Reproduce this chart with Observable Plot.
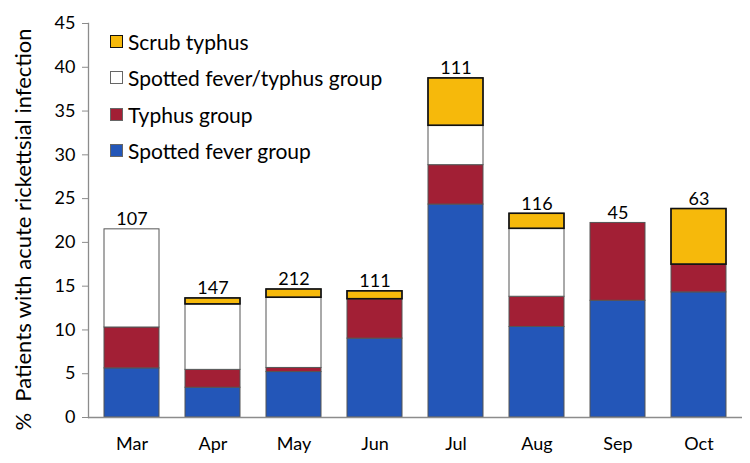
<!DOCTYPE html>
<html>
<head>
<meta charset="utf-8">
<script src="https://cdn.jsdelivr.net/npm/d3@7"></script>
<script src="https://cdn.jsdelivr.net/npm/@observablehq/plot@0.6"></script>
<style>
  html, body { margin: 0; padding: 0; background: #fff; }
  #wrap { position: relative; width: 750px; height: 463px; font-family: Lato, "Open Sans", sans-serif; }
  #legend { position: absolute; left: 110px; top: 23.5px; font-size: 21px; color: #000; }
  #legend .row { display: flex; align-items: center; height: 36.3px; }
  #legend .sw { width: 13px; height: 13px; box-sizing: border-box; margin-right: 5px; }
</style>
</head>
<body>
<div id="wrap"><div id="legend"></div></div>
<script>
const months = ["Mar", "Apr", "May", "Jun", "Jul", "Aug", "Sep", "Oct"];
const totals = [107, 147, 212, 111, 111, 116, 45, 63];
const seriesNames = ["Spotted fever group", "Typhus group", "Spotted fever/typhus group", "Scrub typhus"];
const spottedFever = [5.61, 3.40, 5.19, 9.01, 24.32, 10.34, 13.33, 14.29];
const typhus = [4.67, 2.04, 0.47, 4.50, 4.50, 3.45, 8.89, 3.17];
const spottedTyphus = [11.21, 7.48, 8.02, 0, 4.50, 7.76, 0, 0];
const scrub = [0, 0.68, 0.94, 0.90, 5.41, 1.72, 0, 6.35];
const seriesColors = ["#2356B8", "#A21F35", "#FFFFFF", "#F6B90B"];
const yTicks = [0, 5, 10, 15, 20, 25, 30, 35, 40, 45];
const yLabel = "%  Patients with acute rickettsial infection";

const seriesValues = [spottedFever, typhus, spottedTyphus, scrub];
const rows = [];
months.forEach((m, i) => {
  seriesNames.forEach((s, k) => {
    const v = seriesValues[k][i];
    if (v > 0) rows.push({month: m, series: s, value: v});
  });
});
const tops = months.map((m, i) => ({
  month: m, n: totals[i],
  top: seriesValues.reduce((a, arr) => a + arr[i], 0)
}));

const font = "Lato, 'Open Sans', sans-serif";
const chart = Plot.plot({
  width: 750,
  height: 463,
  marginLeft: 88,
  marginRight: 8,
  marginTop: 23,
  marginBottom: 46,
  style: {fontFamily: font, fontSize: "18px", color: "#000", background: "#fff"},
  x: {domain: months, paddingInner: 0.327, paddingOuter: 0.1635},
  y: {domain: [0, 45]},
  color: {domain: seriesNames, range: seriesColors},
  marks: [
    Plot.barY(rows, {x: "month", y: "value", fill: "series", stroke: "#555", strokeWidth: 1}),
    Plot.barY(rows, {x: "month", y: "value", fill: "none", stroke: "#111", strokeWidth: 1.6,
      strokeOpacity: d => d.series === "Scrub typhus" ? 1 : 0}),
    Plot.text(tops, {x: "month", y: "top", text: d => String(d.n), lineAnchor: "bottom", dy: -4, fontSize: 18, fill: "#000"}),
    Plot.axisY({ticks: yTicks, tickSize: 6, tickPadding: 7, stroke: "#8c8c8c", fill: "#000", fontSize: 18, label: null}),
    Plot.axisX({tickSize: 0, tickPadding: 20, fill: "#000", fontSize: 18, label: null}),
    Plot.text([yLabel], {frameAnchor: "left", textAnchor: "middle", lineAnchor: "middle", rotate: -90, dx: -65, dy: 9, fontSize: 22, fill: "#000"}),
    Plot.ruleY([0], {stroke: "#8c8c8c", strokeWidth: 1.3}),
    Plot.frame({anchor: "left", stroke: "#8c8c8c", strokeWidth: 1.3})
  ]
});
document.getElementById("wrap").prepend(chart);

const legend = document.getElementById("legend");
const legendOrder = [3, 2, 1, 0];
legendOrder.forEach(k => {
  const row = document.createElement("div");
  row.className = "row";
  const sw = document.createElement("div");
  sw.className = "sw";
  sw.style.background = seriesColors[k];
  sw.style.border = k === 3 ? "1.5px solid #111" : "1px solid #666";
  const label = document.createElement("span");
  label.textContent = seriesNames[k];
  row.appendChild(sw);
  row.appendChild(label);
  legend.appendChild(row);
});
</script>
</body>
</html>
